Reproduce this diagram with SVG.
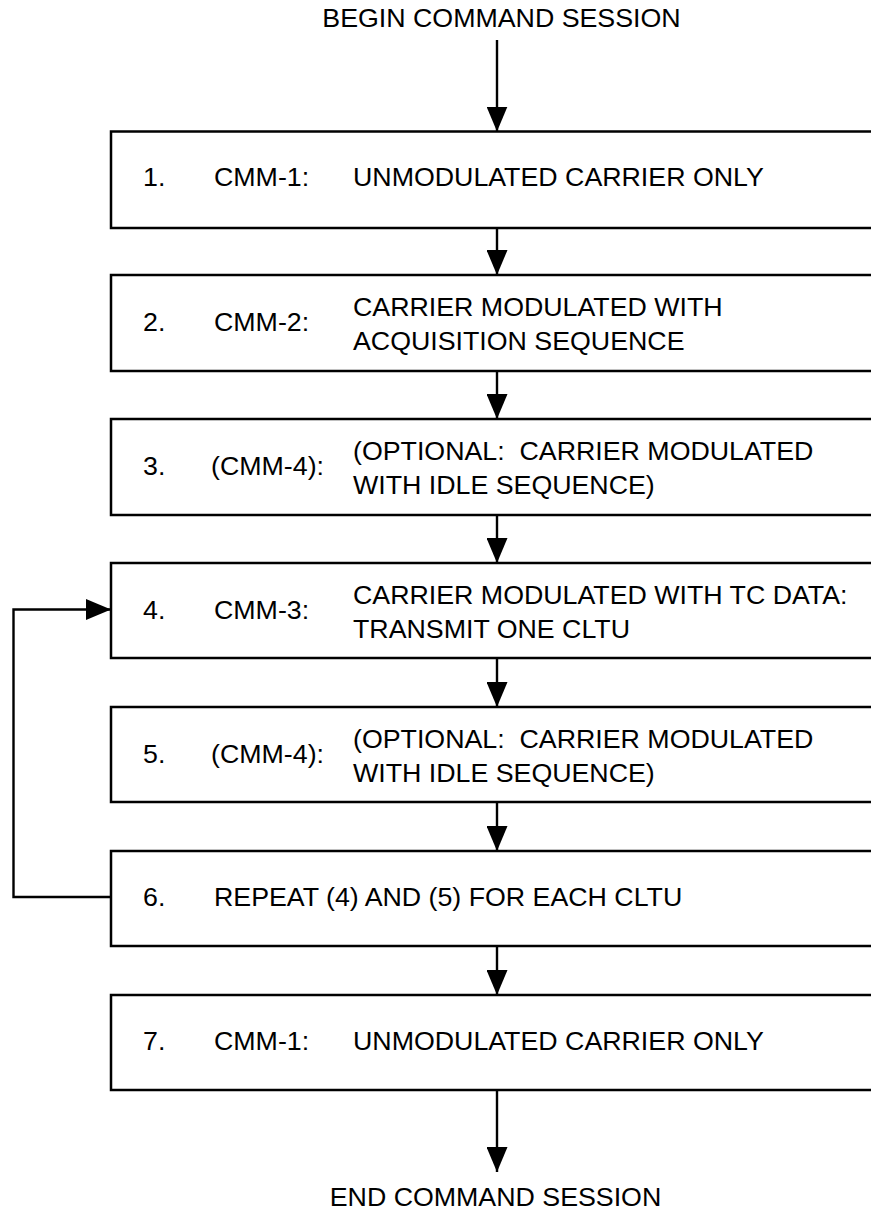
<svg xmlns="http://www.w3.org/2000/svg" width="871" height="1212" viewBox="0 0 871 1212">
<style>
.box{fill:#fff;stroke:#000;stroke-width:2.5}
.ln{fill:none;stroke:#000;stroke-width:2.4}
text{font-family:"Liberation Sans",Arial,sans-serif;font-size:25.5px;fill:#000;white-space:pre}
.c{text-anchor:middle}
</style>
<defs>
<marker id="ah" viewBox="0 0 25 21" refX="25" refY="10.5" markerWidth="25" markerHeight="21" markerUnits="userSpaceOnUse" orient="auto">
<path d="M0,0 L25,10.5 L0,21 Z" fill="#000"/>
</marker>
</defs>
<g id="connectors">
<path class="ln" d="M497,40 V131.5" marker-end="url(#ah)"/>
<path class="ln" d="M497,228 V275" marker-end="url(#ah)"/>
<path class="ln" d="M497,371 V419" marker-end="url(#ah)"/>
<path class="ln" d="M497,515 V563" marker-end="url(#ah)"/>
<path class="ln" d="M497,658 V707" marker-end="url(#ah)"/>
<path class="ln" d="M497,802 V851" marker-end="url(#ah)"/>
<path class="ln" d="M497,946 V995" marker-end="url(#ah)"/>
<path class="ln" d="M497,1090 V1172" marker-end="url(#ah)"/>
<path class="ln" d="M111,897 H13.5 V609.5 H111" marker-end="url(#ah)"/>
</g>
<g id="begin"><g transform="scale(1.05 1)"><text class="c" x="477.6" y="27">BEGIN COMMAND SESSION</text></g></g>
<g id="n1"><rect class="box" x="111" y="131.5" width="780" height="96.5"/>
<g transform="scale(1.05 1)"><text x="136.2" y="186">1.</text><text x="203.8" y="186">CMM-1:</text><text x="336.2" y="186">UNMODULATED CARRIER ONLY</text></g></g>
<g id="n2"><rect class="box" x="111" y="275" width="780" height="96"/>
<g transform="scale(1.05 1)"><text x="136.2" y="331">2.</text><text x="203.8" y="331">CMM-2:</text><text x="336.2" y="316">CARRIER MODULATED WITH</text><text x="336.2" y="350">ACQUISITION SEQUENCE</text></g></g>
<g id="n3"><rect class="box" x="111" y="419" width="780" height="96"/>
<g transform="scale(1.05 1)"><text x="136.2" y="475">3.</text><text x="201" y="475">(CMM-4):</text><text x="336.2" y="460">(OPTIONAL:  CARRIER MODULATED</text><text x="336.2" y="494">WITH IDLE SEQUENCE)</text></g></g>
<g id="n4"><rect class="box" x="111" y="563" width="780" height="95"/>
<g transform="scale(1.05 1)"><text x="136.2" y="619">4.</text><text x="203.8" y="619">CMM-3:</text><text x="336.2" y="604">CARRIER MODULATED WITH TC DATA:</text><text x="336.2" y="638">TRANSMIT ONE CLTU</text></g></g>
<g id="n5"><rect class="box" x="111" y="707" width="780" height="95"/>
<g transform="scale(1.05 1)"><text x="136.2" y="763">5.</text><text x="201" y="763">(CMM-4):</text><text x="336.2" y="748">(OPTIONAL:  CARRIER MODULATED</text><text x="336.2" y="782">WITH IDLE SEQUENCE)</text></g></g>
<g id="n6"><rect class="box" x="111" y="851" width="780" height="95"/>
<g transform="scale(1.05 1)"><text x="136.2" y="906">6.</text><text x="203.8" y="906">REPEAT (4) AND (5) FOR EACH CLTU</text></g></g>
<g id="n7"><rect class="box" x="111" y="995" width="780" height="95"/>
<g transform="scale(1.05 1)"><text x="136.2" y="1050">7.</text><text x="203.8" y="1050">CMM-1:</text><text x="336.2" y="1050">UNMODULATED CARRIER ONLY</text></g></g>
<g id="end"><g transform="scale(1.05 1)"><text class="c" x="471.9" y="1206">END COMMAND SESSION</text></g></g>
</svg>
